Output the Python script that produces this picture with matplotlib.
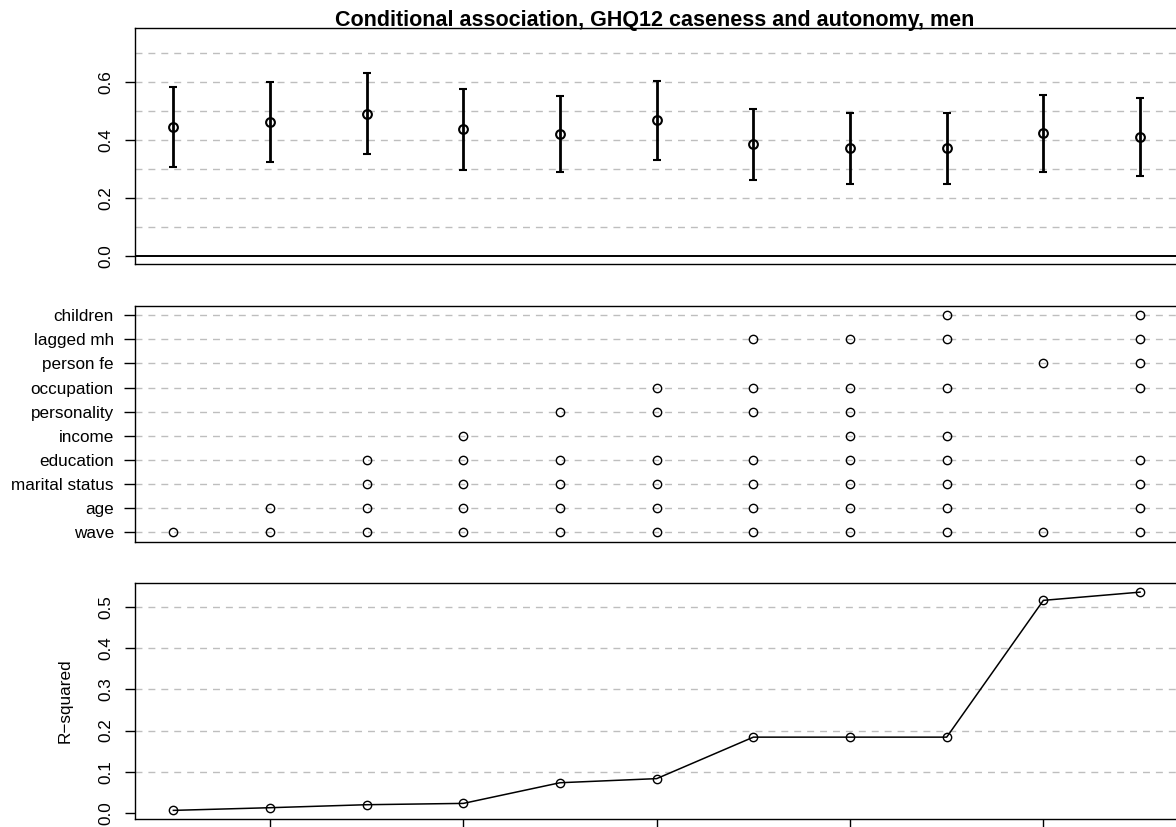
import matplotlib
matplotlib.use("Agg")
import matplotlib.pyplot as plt
import numpy as np

# ---------------- data ----------------
models = [1, 2, 3, 4, 5, 6, 7, 8, 9, 10, 11]
estimate = [0.444, 0.461, 0.490, 0.436, 0.420, 0.467, 0.385, 0.371, 0.371, 0.422, 0.410]
lower = [0.307, 0.325, 0.352, 0.297, 0.288, 0.332, 0.262, 0.248, 0.248, 0.289, 0.275]
upper = [0.581, 0.600, 0.630, 0.574, 0.550, 0.601, 0.506, 0.491, 0.491, 0.553, 0.543]

controls = ["wave", "age", "marital status", "education", "income",
            "personality", "occupation", "person fe", "lagged mh", "children"]
included = [
    ["wave"],
    ["wave", "age"],
    ["wave", "age", "marital status", "education"],
    ["wave", "age", "marital status", "education", "income"],
    ["wave", "age", "marital status", "education", "personality"],
    ["wave", "age", "marital status", "education", "personality", "occupation"],
    ["wave", "age", "marital status", "education", "personality", "occupation", "lagged mh"],
    ["wave", "age", "marital status", "education", "income", "personality", "occupation", "lagged mh"],
    ["wave", "age", "marital status", "education", "income", "occupation", "lagged mh", "children"],
    ["wave", "person fe"],
    ["wave", "age", "marital status", "education", "occupation", "person fe", "lagged mh", "children"],
]

r_squared = [0.0057, 0.0122, 0.0195, 0.0227, 0.073, 0.083, 0.184, 0.184, 0.184, 0.517, 0.537]

top_ticks = [0.0, 0.2, 0.4, 0.6]
top_grid = [0.1, 0.2, 0.3, 0.4, 0.5, 0.6, 0.7]
bottom_ticks = [0.0, 0.1, 0.2, 0.3, 0.4, 0.5]
bottom_grid = [0.1, 0.2, 0.3, 0.4, 0.5]
bottom_xticks = [2, 4, 6, 8, 10]

title = "Conditional association, GHQ12 caseness and autonomy, men"

# ---------------- style ----------------
plt.rcParams['font.family'] = ['Liberation Sans', 'DejaVu Sans']
plt.rcParams['lines.scale_dashes'] = False
W, H = 1176, 827
DPI = 100
fs = 12.3
grid_kw = dict(color='#BEBEBE', lw=1.0, dashes=(5.0, 4.3))
frame_lw = 1.0

fig = plt.figure(figsize=(W / DPI, H / DPI), dpi=DPI)

def add_ax(top_px, bottom_px):
    left = 134.7 / W
    width = 1044.0 / W
    return fig.add_axes([left, 1 - bottom_px / H, width, (bottom_px - top_px) / H])

def style_ax(ax):
    for s in ax.spines.values():
        s.set_linewidth(frame_lw)
        s.set_color('black')
    ax.set_xlim(0.6, 11.4)

# ---------- top panel ----------
ax1 = add_ax(28.3, 264.3)
style_ax(ax1)
for g in top_grid:
    ax1.axhline(g, **grid_kw, zorder=1)
ax1.axhline(0.0, color='black', lw=1.4, zorder=2)
est = np.array(estimate)
lo = np.array(lower)
hi = np.array(upper)
ax1.errorbar(models, est, yerr=[est - lo, hi - est], fmt='o', color='black',
             ecolor='black', elinewidth=2.0, capsize=2.8, capthick=2.0,
             markersize=6.3, markerfacecolor='none', markeredgewidth=1.5, zorder=3)
ax1.set_ylim(-0.0286, 0.7838)
ax1.set_yticks(top_ticks)
ax1.set_yticklabels([f"{t:.1f}" for t in top_ticks])
ax1.set_xticks([])
ax1.tick_params(axis='y', direction='out', length=7.3, width=frame_lw, pad=8.0,
                labelsize=fs)
for lab in ax1.get_yticklabels():
    lab.set_rotation(90)
    lab.set_va('center')
    lab.set_ha('right')

# ---------- middle panel ----------
ax2 = add_ax(305.7, 541.7)
style_ax(ax2)
rows = list(range(1, len(controls) + 1))
for r in rows:
    ax2.axhline(r, **grid_kw, zorder=1)
xs, ys = [], []
for m, inc in zip(models, included):
    for name in inc:
        xs.append(m)
        ys.append(controls.index(name) + 1)
ax2.plot(xs, ys, 'o', color='black', markersize=6.0, markerfacecolor='none',
         markeredgewidth=1.0, zorder=3)
ax2.set_ylim(0.6, 10.4)
ax2.set_yticks(rows)
ax2.set_yticklabels(controls)
ax2.set_xticks([])
ax2.tick_params(axis='y', direction='out', length=7.6, width=frame_lw, pad=7.4,
                labelsize=fs)

# ---------- bottom panel ----------
ax3 = add_ax(582.7, 819.0)
style_ax(ax3)
for g in bottom_grid:
    ax3.axhline(g, **grid_kw, zorder=1)
ax3.plot(models, r_squared, '-o', color='black', lw=1.1, markersize=6.0,
         markerfacecolor='none', markeredgewidth=1.0, zorder=3)
ax3.set_ylim(-0.0153, 0.560)
ax3.set_yticks(bottom_ticks)
ax3.set_yticklabels([f"{t:.1f}" for t in bottom_ticks])
ax3.set_xticks(bottom_xticks)
ax3.tick_params(axis='x', direction='out', length=7.3, width=frame_lw,
                labelbottom=False)
ax3.tick_params(axis='y', direction='out', length=7.3, width=frame_lw, pad=8.0,
                labelsize=fs)
for lab in ax3.get_yticklabels():
    lab.set_rotation(90)
    lab.set_va('center')
    lab.set_ha('right')

fig.text(65 / W, 1 - 700.9 / H, "R\u2212squared", rotation=90, ha='center',
         va='center', fontsize=fs)

fig.text(654.7 / W, 1 - 25.7 / H, title, ha='center', va='baseline',
         fontsize=15.5, fontweight='bold')

fig.savefig("out.png", dpi=DPI)
